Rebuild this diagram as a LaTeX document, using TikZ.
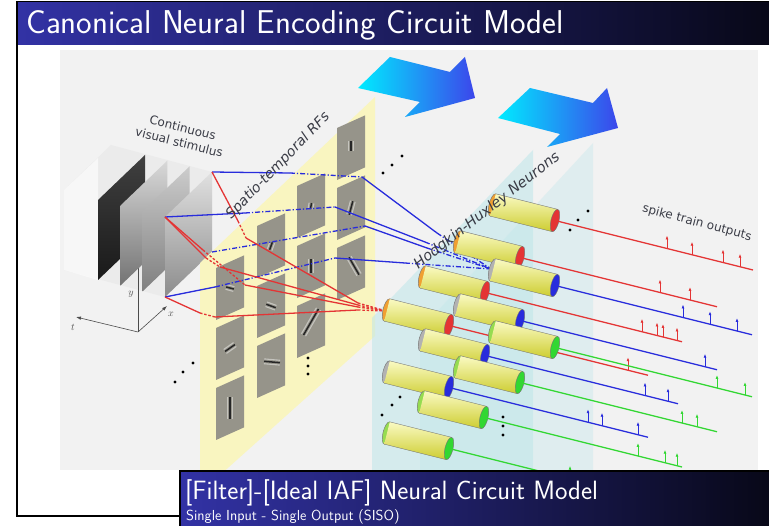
\documentclass[tikz,border=0pt]{standalone}
\usepackage{fontspec}
\usetikzlibrary{arrows.meta}
\newfontfamily\figfont{DejaVu Sans}
\definecolor{barBlue}{RGB}{50,50,165}
\definecolor{barDark}{RGB}{8,8,24}
\definecolor{bgGray}{RGB}{242,242,242}
\definecolor{rfYellow}{RGB}{249,245,192}
\definecolor{rfGray}{RGB}{150,148,138}
\definecolor{hhCyan}{RGB}{190,230,234}
\definecolor{lnRed}{RGB}{228,52,52}
\definecolor{lnBlue}{RGB}{40,44,220}
\definecolor{lnGreen}{RGB}{50,215,50}
\definecolor{capOrange}{RGB}{240,160,50}
\definecolor{capGray}{RGB}{178,178,178}
\definecolor{capLime}{RGB}{150,220,80}
\definecolor{cylTop}{RGB}{250,250,195}
\definecolor{cylMid}{RGB}{248,248,62}
\definecolor{cylBot}{RGB}{205,205,48}
\definecolor{arrowCyan}{RGB}{0,235,255}
\definecolor{arrowBlue}{RGB}{60,70,235}
\definecolor{labelGray}{RGB}{58,60,70}
\tikzset{
    rf blue/.style={draw=lnBlue, line width=1.3pt},
    rf blue dd/.style={rf blue, dash pattern=on 5pt off 2pt on 1.2pt off 2pt},
    rf red/.style={draw=lnRed, line width=1.3pt},
    rf red dash/.style={rf red, dash pattern=on 2.5pt off 1.8pt},
    fig label/.style={font=\figfont, text=labelGray, inner sep=1pt},
    axis line/.style={draw=black!70, line width=0.6pt},
}
% neuron: name, back x, back y, back cap, front colour, line end x, spike x list
\newcommand{\neuron}[7]{%
    \begin{scope}[shift={(#2,#3)}, rotate=-14.04]
        \fill[#4, draw=black!55, line width=0.4pt] (0,0) ellipse [x radius=4, y radius=11.5];
        \shade[top color=cylTop, middle color=cylMid, bottom color=cylBot] (0,-11.5) rectangle (63.9,11.5);
        \draw[black!55, line width=0.4pt] (0,-11.5) -- (63.9,-11.5) (0,11.5) -- (63.9,11.5);
        \fill[#5, draw=black!55, line width=0.4pt] (63.9,0) ellipse [x radius=4, y radius=11.5];
    \end{scope}
    \coordinate (#1_F) at (#2+62, #3+15.5);
    \coordinate (#1_E) at (#6, {#3+15.5+0.25*(#6-#2-62)});
    \draw[#5, line width=1.3pt] (#1_F) -- (#1_E);
    \foreach \sx in {#7}
        \draw[#5, line width=0.9pt, -{Latex[length=4pt, width=3pt]}] (\sx, {#3+15.5+0.25*(\sx-#2-62)}) -- ++(0,-13);
}
% receptive field square: name, x, y (top left)
\newcommand{\rfsquare}[3]{%
    \coordinate (#1) at (#2,#3);
    \fill[rfGray] (#1) -- ++(28,-12.6) -- ++(0,52) -- ++(-28,12.6) -- cycle;
}
% gabor stripes: x, y, angle, length
\newcommand{\gabor}[4]{%
    \begin{scope}[shift={(#1,#2)}, rotate=#3]
        \draw[white, opacity=0.45, line width=1.1pt] (-#4/2,-2.4) -- (#4/2,-2.4) (-#4/2,2.4) -- (#4/2,2.4);
        \draw[black!85, line width=1.5pt] (-#4/2,0) -- (#4/2,0);
    \end{scope}
}

\begin{document}
\begin{tikzpicture}[x=1pt, y=-1pt]
    % Canvas
    \useasboundingbox (0,0) rectangle (769,526);
    \fill[white] (0,0) rectangle (769,526);
    \fill[bgGray] (60,50) rectangle (758,470);

    % Stimulus block
    \fill[black!8] (64,190) -- (111,145) -- (212,172) -- (212,252) -- (165,297) -- (64,270) -- cycle;
    \fill[white, opacity=0.6] (64,190) -- (98,158) -- (98,280) -- (64,270) -- cycle;

    % Axes
    \coordinate (AX_O) at (138,332);
    \draw[axis line] (AX_O) -- (138,268);
    \draw[axis line, -{Latex[length=5pt, width=3.5pt]}] (AX_O) -- (167,306);
    \draw[axis line, -{Latex[length=5pt, width=3.5pt]}] (AX_O) -- (76,317);
    \node[text=black!70, font=\normalsize] (AX_YL) at (131,294) {$y$};
    \node[text=black!70, font=\normalsize] (AX_XL) at (171,314) {$x$};
    \node[text=black!70, font=\normalsize] (AX_TL) at (73,327) {$t$};

    % Frames
    \shade[top color=black!75, bottom color=black!90] (98,200) -- ++(47,-45) -- ++(0,80) -- ++(-47,45) -- cycle;
    \shade[top color=black!15, bottom color=black!55] (120.3,205.7) -- ++(47,-45) -- ++(0,80) -- ++(-47,45) -- cycle;
    \shade[top color=black!20, bottom color=black!50] (142.6,211.4) -- ++(47,-45) -- ++(0,80) -- ++(-47,45) -- cycle;
    \shade[top color=black!12, bottom color=black!45] (165,217) -- ++(47,-45) -- ++(0,80) -- ++(-47,45) -- cycle;
    \coordinate (ST_TL) at (165,217);
    \coordinate (ST_TR) at (212,172);
    \coordinate (ST_BR) at (212,252);
    \coordinate (ST_BL) at (165,297);

    % RF panel
    \fill[rfYellow] (200,263) -- (375,97) -- (375,336) -- (200,493) -- cycle;
    \rfsquare{RF11}{216}{268} \rfsquare{RF12}{216}{328} \rfsquare{RF13}{216}{388}
    \rfsquare{RF21}{257}{226} \rfsquare{RF22}{257}{286} \rfsquare{RF23}{257}{346}
    \rfsquare{RF31}{297}{186} \rfsquare{RF32}{297}{246} \rfsquare{RF33}{297}{306}
    \rfsquare{RF41}{337}{128} \rfsquare{RF42}{337}{188} \rfsquare{RF43}{337}{248}
    \gabor{230}{288}{-15}{8}  \gabor{230}{348}{35}{12}  \gabor{230}{408}{90}{22}
    \gabor{271}{246}{70}{8}   \gabor{271}{306}{-20}{10} \gabor{272}{362}{-5}{16}
    \gabor{311}{206}{80}{6}   \gabor{311}{266}{90}{14}  \gabor{311}{322}{60}{30}
    \gabor{351}{146}{90}{10}  \gabor{351}{208}{75}{14}  \gabor{354}{266}{-60}{20}

    % Neuron sheets
    \fill[hhCyan, opacity=0.55] (372,318) -- (533,150) -- (533,470) -- (372,470) -- cycle;
    \fill[hhCyan, opacity=0.35] (420,330) -- (593,143) -- (593,470) -- (420,470) -- cycle;

    % Flow arrows
    \shade[left color=arrowCyan, right color=arrowBlue] (390,57) -- (450,72) -- (465,57) -- (475,98) -- (405,117) -- (420,102) -- (358,88) -- cycle;
    \shade[left color=arrowCyan, right color=arrowBlue] (530,88) -- (593,103) -- (607,88) -- (618,128) -- (547,147) -- (560,134) -- (498,118) -- cycle;

    % Blue filter paths
    \coordinate (N3_B) at (491,269);
    \coordinate (B1a) at (290,173); \coordinate (B1b) at (362,177); \coordinate (B1c) at (437,233);
    \draw[rf blue] (ST_TR) -- (B1a);
    \draw[rf blue dd] (B1a) -- (B1b);
    \draw[rf blue] (B1b) -- (B1c);
    \draw[rf blue dd] (B1c) -- (N3_B);
    \coordinate (B2a) at (245,213); \coordinate (B2b) at (335,207); \coordinate (B2c) at (425,242);
    \draw[rf blue] (ST_TL) -- (B2a);
    \draw[rf blue dd] (B2a) -- (B2b);
    \draw[rf blue] (B2b) -- (B2c);
    \draw[rf blue dd] (B2c) -- (N3_B);
    \coordinate (B3a) at (365,226); \coordinate (B3b) at (427,248);
    \draw[rf blue dd] (ST_BR) -- (B3a);
    \draw[rf blue] (B3a) -- (B3b);
    \draw[rf blue dd] (B3b) -- (N3_B);
    \coordinate (B4a) at (215,287); \coordinate (B4b) at (335,258); \coordinate (B4c) at (405,263);
    \draw[rf blue] (ST_BL) -- (B4a);
    \draw[rf blue dd] (B4a) -- (B4b);
    \draw[rf blue] (B4b) -- (B4c);
    \draw[rf blue dd] (B4c) -- (N3_B);

    % Red filter paths
    \coordinate (N5_B) at (386,311);
    \coordinate (R1a) at (238,221); \coordinate (R1b) at (246,238); \coordinate (R1c) at (358,303);
    \draw[rf red] (ST_TR) -- (R1a);
    \draw[rf red dash] (R1a) -- (R1b);
    \draw[rf red] (R1b) -- (R1c);
    \draw[rf red dash] (R1c) -- (N5_B);
    \coordinate (R2a) at (206,258); \coordinate (R2b) at (220,267); \coordinate (R2c) at (358,305);
    \draw[rf red] (ST_TL) -- (R2a);
    \draw[rf red dash] (R2a) -- (R2b);
    \draw[rf red] (R2b) -- (R2c);
    \draw[rf red dash] (R2c) -- (N5_B);
    \coordinate (R3a) at (203,250); \coordinate (R3b) at (245,285); \coordinate (R3c) at (358,307);
    \draw[rf red] (ST_TL) -- (R3a);
    \draw[rf red dash] (R3a) -- (R3b);
    \draw[rf red] (R3b) -- (R3c);
    \draw[rf red dash] (R3c) -- (N5_B);
    \coordinate (R4a) at (200,313); \coordinate (R4b) at (215,317); \coordinate (R4c) at (358,310);
    \draw[rf red] (ST_BL) -- (R4a);
    \draw[rf red dash] (R4a) -- (R4b);
    \draw[rf red] (R4b) -- (R4c);
    \draw[rf red dash] (R4c) -- (N5_B);

    % Neurons
    \neuron{N1}{493}{205}{capOrange}{lnRed}{753}{667,692,723,740}
    \neuron{N2}{458}{242}{capOrange}{lnRed}{717}{660,690}
    \neuron{N3}{493}{270}{capGray}{lnBlue}{752}{683,710,737}
    \neuron{N4}{423}{277}{capOrange}{lnRed}{682}{642,657,663,677}
    \neuron{N5}{387}{310}{capOrange}{lnRed}{648}{628}
    \neuron{N6}{458}{305}{capGray}{lnBlue}{717}{705}
    \neuron{N7}{493}{332}{capLime}{lnGreen}{752}{717,745}
    \neuron{N8}{423}{340}{capGray}{lnBlue}{678}{645,668}
    \neuron{N9}{458}{367}{capLime}{lnGreen}{717}{682,697}
    \neuron{N10}{387}{372}{capGray}{lnBlue}{648}{588,602,638}
    \neuron{N11}{422}{402}{capLime}{lnGreen}{682}{638,665,677}
    \neuron{N12}{387}{433}{capLime}{lnGreen}{640}{570}

    % Ellipsis dots
    \fill (383,173) circle [radius=1.6] (392,165) circle [radius=1.6] (402,156) circle [radius=1.6];
    \fill (570,230) circle [radius=1.6] (578,220) circle [radius=1.6] (588,211) circle [radius=1.6];
    \fill (382,415) circle [radius=1.6] (392,405) circle [radius=1.6] (400,397) circle [radius=1.6];
    \fill (503,417) circle [radius=1.6] (503,426) circle [radius=1.6] (503,435) circle [radius=1.6];
    \fill (175,382) circle [radius=1.6] (183,372) circle [radius=1.6] (193,363) circle [radius=1.6];
    \fill (308,358) circle [radius=1.6] (308,366) circle [radius=1.6] (308,374) circle [radius=1.6];

    % Labels
    \node[fig label, rotate=-14, align=center, font=\figfont\fontsize{12}{15}\selectfont] (STIM_LABEL) at (181,135) {Continuous\\visual stimulus};
    \node[fig label, rotate=46, font=\figfont\itshape\fontsize{14}{16}\selectfont] (RF_LABEL) at (278,166) {Spatio-temporal RFs};
    \node[fig label, rotate=38, font=\figfont\itshape\fontsize{14.5}{16}\selectfont] (HH_LABEL) at (487,211) {Hodgkin-Huxley Neurons};
    \node[fig label, rotate=-15, font=\figfont\fontsize{12}{15}\selectfont] (SPIKE_LABEL) at (697,223) {spike train outputs};

    % Title bar
    \shade[left color=barBlue, right color=barDark] (17,1.5) rectangle (769,45);
    \node[anchor=base west, text=white, font=\sffamily\fontsize{33}{38}\selectfont, inner sep=0pt] (TITLE) at (26,34) {Canonical Neural Encoding Circuit Model};

    % Frame lines
    \draw[black, line width=1.3pt] (769,1.5) -- (17,1.5) -- (17,516) -- (181,516);

    % Caption bar
    \shade[left color=barBlue, right color=barDark] (180,471) rectangle (769,526);
    \draw[black, line width=1.3pt] (180,526) -- (180,471) -- (769,471);
    \node[anchor=base west, text=white, font=\sffamily\fontsize{26.5}{30}\selectfont, inner sep=0pt] (CAPTION) at (185,500) {[Filter]-[Ideal IAF] Neural Circuit Model};
    \node[anchor=base west, text=white, font=\sffamily\fontsize{14.5}{17}\selectfont, inner sep=0pt] (CAPTION_SUB) at (186,521) {Single Input - Single Output (SISO)};
\end{tikzpicture}
\end{document}
